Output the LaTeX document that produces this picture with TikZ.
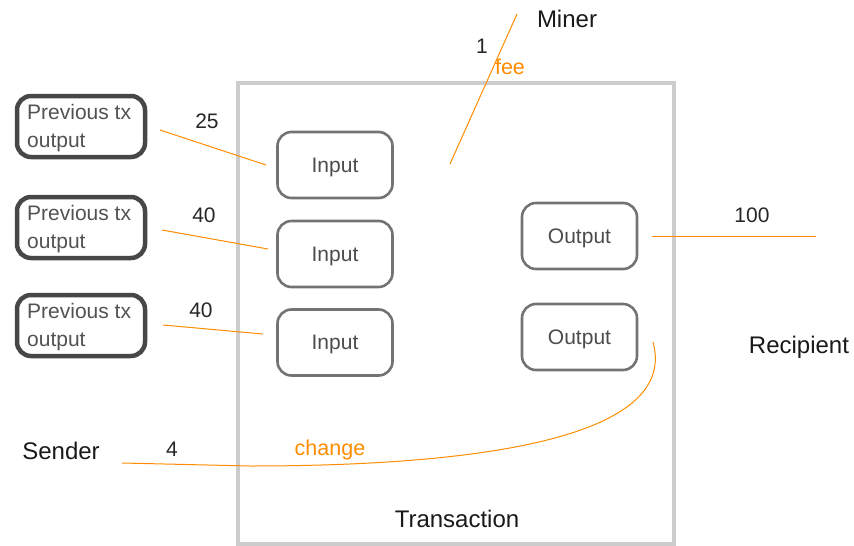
\documentclass[tikz,border=0pt]{standalone}
\usepackage{fontspec}
\setmainfont{Liberation Sans}
\begin{document}
\begin{tikzpicture}[x=1pt,y=-1pt,
  prevbox/.style={draw=black!72,line width=4.5pt,rounded corners=14pt,minimum width=128pt,minimum height=61pt,inner sep=0pt},
  partbox/.style={draw=black!55,line width=2.6pt,rounded corners=14pt,minimum width=115pt,minimum height=66pt,text=black!70,text depth=0pt,font=\fontsize{21}{24}\selectfont},
  flow/.style={draw=orange!90!yellow,line width=1pt},
  num/.style={text=black!85,font=\fontsize{21}{24}\selectfont,inner sep=0pt},
  actor/.style={text=black!90,font=\fontsize{24}{28}\selectfont,inner sep=0pt},
  tag/.style={text=orange!90!yellow,font=\fontsize{21.5}{24}\selectfont,inner sep=0pt}]
\useasboundingbox (0,0) rectangle (854,546);
% transaction frame
\node[draw=black!20,line width=4pt,minimum width=436pt,minimum height=461pt,inner sep=0pt] (tx) at (456,313.5) {};
\node[actor] (txlabel) at (457,519) {Transaction};
% previous outputs
\foreach \n/\y in {1/126.5,2/227.5,3/325.5}{
  \node[prevbox] (prev\n) at (81,\y) {};
  \node[anchor=west,align=left,text=black!68,font=\fontsize{21}{28}\selectfont,inner sep=0pt] (prevtxt\n) at (27,\y+1.5) {Previous tx\\output};
}
% inputs and outputs
\node[partbox] (in1) at (335,165) {Input};
\node[partbox] (in2) at (335,254) {Input};
\node[partbox] (in3) at (335,342.5) {Input};
\node[partbox] (out1) at (579.5,236) {Output};
\node[partbox] (out2) at (579.5,337) {Output};
% parties
\node[actor] (miner) at (567,19) {Miner};
\node[actor] (recipient) at (799,347) {Recipient};
\node[actor] (sender) at (61,451) {Sender};
% free ends of flows
\coordinate (p1) at (160,130);
\coordinate (i1) at (266,165);
\coordinate (p2) at (162,230);
\coordinate (i2) at (268,249);
\coordinate (p3) at (163,325);
\coordinate (i3) at (263,334);
\coordinate (feeA) at (450,164);
\coordinate (feeB) at (517,14);
\coordinate (o1) at (652,236);
\coordinate (r1) at (816,236);
\coordinate (o2) at (653,342);
\coordinate (s1) at (122,463);
% flows
\draw[flow] (p1) -- (i1);
\draw[flow] (p2) -- (i2);
\draw[flow] (p3) -- (i3);
\draw[flow] (feeA) -- (feeB);
\draw[flow] (o1) -- (r1);
\draw[flow] (o2) .. controls (680,440) and (470,466) .. (250,466) -- (s1);
% amounts
\node[num] (a25) at (207,121) {25};
\node[num] (a40a) at (204,215) {40};
\node[num] (a40b) at (201,310) {40};
\node[num] (a1) at (482,46) {1};
\node[num] (a100) at (752,215) {100};
\node[num] (a4) at (172,449) {4};
\node[tag] (fee) at (510,67) {fee};
\node[tag] (change) at (330,450) {change};
\end{tikzpicture}
\end{document}
